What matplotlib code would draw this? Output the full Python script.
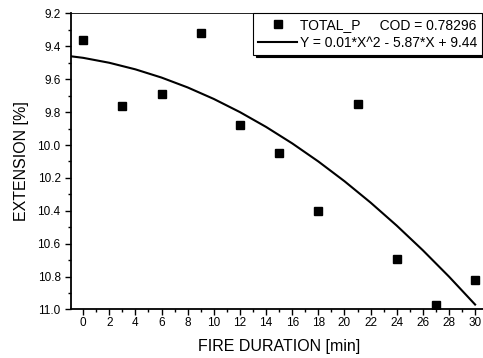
import matplotlib.pyplot as plt
from matplotlib.ticker import MultipleLocator

plt.rcParams['font.family'] = ['Liberation Sans', 'DejaVu Sans']

# measured points
fire_min = [0, 3, 6, 9, 12, 15, 18, 21, 24, 27, 30]
extension = [9.36, 9.76, 9.69, 9.32, 9.88, 10.05, 10.40, 9.75, 10.69, 10.97, 10.82]

# fitted curve
fit_x = [-1, 0, 2, 4, 6, 8, 10, 12, 14, 16, 18, 20, 22, 24, 26, 28, 30]
fit_y = [9.46, 9.47, 9.50, 9.54, 9.59, 9.65, 9.72, 9.80, 9.89, 9.99, 10.10,
         10.22, 10.35, 10.49, 10.64, 10.80, 10.97]

x_ticks = list(range(0, 31, 2))
y_ticks = [9.2, 9.4, 9.6, 9.8, 10.0, 10.2, 10.4, 10.6, 10.8, 11.0]

fig = plt.figure(figsize=(4.83, 3.58), dpi=100)
ax = fig.add_axes([0.147, 0.1355, 0.861, 0.827])

ax.plot(fire_min, extension, 's', color='black', markersize=5.5,
        label='TOTAL_P     COD = 0.78296')
ax.plot(fit_x, fit_y, '-', color='black', linewidth=1.5,
        label='Y = 0.01*X^2 - 5.87*X + 9.44')

ax.set_xlim(-0.93, 30.9)
ax.set_ylim(11.0, 9.2)
ax.set_xticks(x_ticks)
ax.set_yticks(y_ticks)
ax.set_yticklabels([f'{v:.1f}' for v in y_ticks])
ax.xaxis.set_minor_locator(MultipleLocator(1))
ax.yaxis.set_minor_locator(MultipleLocator(0.1))
ax.tick_params(which='major', direction='out', length=4, width=1, labelsize=8.5)
ax.tick_params(axis='x', which='major', pad=1.5)
ax.tick_params(which='minor', direction='out', length=2, width=1)
ax.spines['right'].set_visible(False)
ax.spines['top'].set_linewidth(0.6)
ax.spines['left'].set_linewidth(1.3)
ax.spines['bottom'].set_linewidth(1.3)

ax.set_xlabel('FIRE DURATION [min]', fontsize=11.5, labelpad=7)
ax.set_ylabel('EXTENSION [%]', fontsize=11.5, labelpad=6)

leg = ax.legend(loc='upper right', bbox_to_anchor=(0.988, 1.0), borderaxespad=0,
                fontsize=10, fancybox=False, edgecolor='black', framealpha=1,
                shadow={'color': 'black', 'alpha': 1}, handlelength=2.8,
                handletextpad=0.2, borderpad=0.35, labelspacing=0.25)
leg.get_frame().set_linewidth(0.8)

fig.savefig('out.png', dpi=100)
